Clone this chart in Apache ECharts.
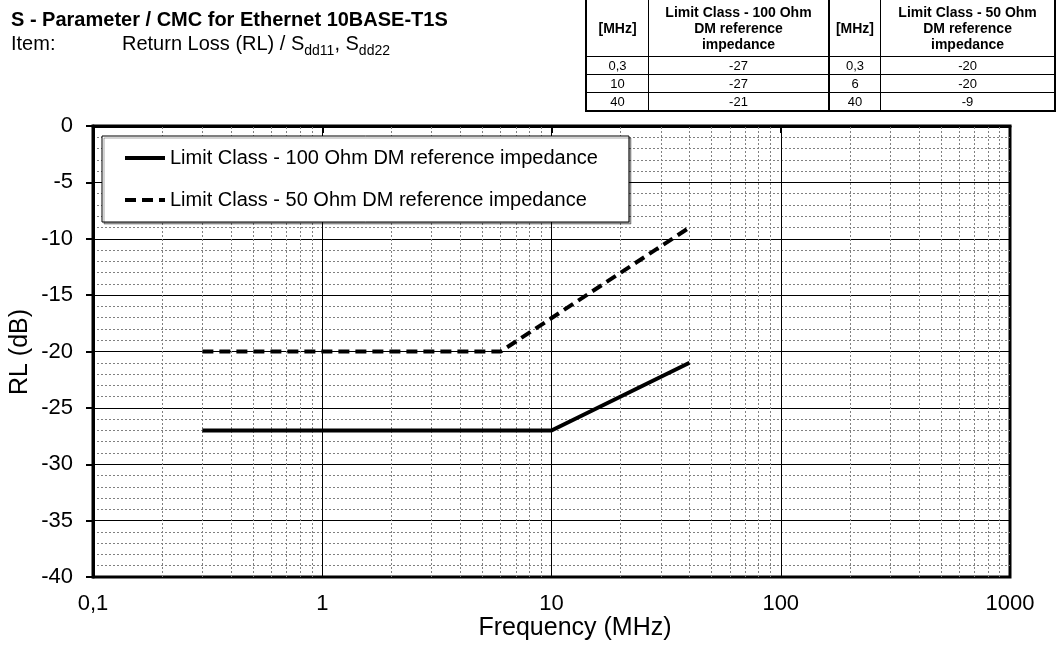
<!DOCTYPE html>
<html>
<head>
<meta charset="utf-8">
<script src="https://cdn.jsdelivr.net/npm/echarts@6/dist/echarts.min.js"></script>
<style>
  html, body { margin: 0; padding: 0; background: #fff; }
  #chart { position: absolute; left: 0; top: 0; width: 1056px; height: 645px; }
  .txt { position: absolute; font-family: 'Liberation Sans', Arial, sans-serif; color: #000; white-space: nowrap; }
  #title { left: 11px; top: 8px; font-size: 20px; font-weight: bold; }
  #item { left: 11px; top: 32px; font-size: 20px; }
  #item .lbl { display: inline-block; width: 111px; }
  #item sub { font-size: 14px; vertical-align: -5px; line-height: 0; }
  #limits { position: absolute; left: 585px; top: -3px; border-collapse: collapse; border: 2px solid #000;
            font-family: 'Liberation Sans', Arial, sans-serif; color: #000; table-layout: fixed; }
  #limits th, #limits td { border: 1px solid #000; text-align: center; padding: 0; }
  #limits th { font-size: 14px; font-weight: bold; line-height: 16px; height: 57px; }
  #limits td { font-size: 13px; height: 17px; line-height: 17px; }
  #limits .sep { border-right: 2px solid #000; }
</style>
</head>
<body>
<div id="chart"></div>
<div id="title" class="txt">S - Parameter / CMC for Ethernet 10BASE-T1S</div>
<div id="item" class="txt"><span class="lbl">Item:</span>Return Loss (RL) / S<sub>dd11</sub>, S<sub>dd22</sub></div>
<table id="limits">
  <colgroup><col style="width:63px"><col style="width:182px"><col style="width:52px"><col style="width:176px"></colgroup>
  <thead><tr id="limitsHead"></tr></thead>
  <tbody id="limitsBody"></tbody>
</table>
<script>
// Limit lines: frequency in MHz, return loss in dB
const seriesNames = [
  'Limit Class - 100 Ohm DM reference impedance',
  'Limit Class - 50 Ohm DM reference impedance'
];
const freq100 = [0.3, 10, 40];
const rl100 = [-27, -27, -21];
const freq50 = [0.3, 6, 40];
const rl50 = [-20, -20, -9];

// Table column headers
const tableHeaders = ['[MHz]', 'Limit Class - 100 Ohm<br>DM reference<br>impedance', '[MHz]', 'Limit Class - 50 Ohm<br>DM reference<br>impedance'];

// Axis ranges and log-grid helpers
const xMin = 0.1, xMax = 1000;
const yMin = -40, yMax = 0, yStep = 5;
const decades = [0.1, 1, 10, 100];
const minorFactors = [2, 3, 4, 5, 6, 7, 8, 9];

const fmt = v => String(v).replace('.', ',');

// Fill the limits table
(function () {
  const head = document.getElementById('limitsHead');
  head.innerHTML = tableHeaders.map((h, i) => '<th' + (i === 1 ? ' class="sep"' : '') + '>' + h + '</th>').join('');
  const body = document.getElementById('limitsBody');
  let rows = '';
  for (let i = 0; i < freq100.length; i++) {
    rows += '<tr><td>' + fmt(freq100[i]) + '</td><td class="sep">' + rl100[i] + '</td><td>' +
            fmt(freq50[i]) + '</td><td>' + rl50[i] + '</td></tr>';
  }
  body.innerHTML = rows;
})();

const minorX = [];
decades.forEach(d => minorFactors.forEach(f => minorX.push(+(d * f).toPrecision(6))));

const FONT = 'Liberation Sans';
const chart = echarts.init(document.getElementById('chart'), null, { renderer: 'canvas' });

chart.setOption({
  animation: false,
  backgroundColor: '#fff',
  textStyle: { fontFamily: FONT },
  grid: {
    left: 93, right: 46, top: 126, bottom: 68,
    show: true, borderColor: '#000', borderWidth: 3, backgroundColor: 'transparent'
  },
  legend: {
    data: seriesNames,
    orient: 'vertical',
    left: 102, top: 136, z: 50,
    itemWidth: 40, itemHeight: 14, itemGap: 22,
    padding: [12, 31, 12, 21],
    backgroundColor: '#fff',
    borderColor: '#000', borderWidth: 1,
    shadowColor: 'rgba(0,0,0,0.35)', shadowOffsetX: 2, shadowOffsetY: 2, shadowBlur: 0,
    itemStyle: { opacity: 0 },
    lineStyle: { width: 4 },
    textStyle: { fontSize: 20, color: '#000', fontFamily: FONT },
    selectedMode: false
  },
  xAxis: {
    type: 'log', logBase: 10, min: xMin, max: xMax,
    axisLine: { lineStyle: { color: '#000', width: 3 } },
    axisTick: { show: true, length: 7, lineStyle: { color: '#000', width: 2 } },
    axisLabel: { fontSize: 22, color: '#000', margin: 16, fontFamily: FONT, formatter: v => fmt(+v.toPrecision(6)) },
    splitLine: { show: true, lineStyle: { color: '#000', width: 1 } }
  },
  yAxis: {
    type: 'value', min: yMin, max: yMax, interval: yStep,
    axisLine: { show: true, lineStyle: { color: '#000', width: 3 } },
    axisTick: { show: true, length: 7, lineStyle: { color: '#000', width: 2 } },
    axisLabel: { fontSize: 22, color: '#000', margin: 20, fontFamily: FONT },
    splitLine: { show: true, lineStyle: { color: '#000', width: 1 } },
    minorTick: { show: false, splitNumber: 5 },
    minorSplitLine: { show: true, lineStyle: { color: '#808080', width: 1, type: [2, 2] } }
  },
  graphic: [
    {
      type: 'text', x: 575, y: 628, z: 10,
      style: { text: 'Frequency (MHz)', fontSize: 25, fill: '#000', fontFamily: FONT, align: 'center', verticalAlign: 'middle' }
    },
    {
      type: 'text', x: 20, y: 352, rotation: Math.PI / 2, z: 10,
      style: { text: 'RL (dB)', fontSize: 25, fill: '#000', fontFamily: FONT, align: 'center', verticalAlign: 'middle' }
    }
  ],
  series: [
    {
      name: seriesNames[0], type: 'line', symbol: 'none', z: 5,
      data: freq100.map((f, i) => [f, rl100[i]]),
      lineStyle: { color: '#000', width: 4, type: 'solid' },
      itemStyle: { color: '#000' }
    },
    {
      name: seriesNames[1], type: 'line', symbol: 'none', z: 5,
      data: freq50.map((f, i) => [f, rl50[i]]),
      lineStyle: { color: '#000', width: 4, type: [11, 6] },
      itemStyle: { color: '#000' }
    },
    {
      // minor vertical grid lines of the log axis
      name: 'minor-grid', type: 'line', data: [], z: 1, silent: true,
      markLine: {
        silent: true, symbol: 'none', animation: false,
        label: { show: false },
        lineStyle: { color: '#808080', width: 1, type: [2, 2] },
        data: minorX.map(v => ({ xAxis: v }))
      }
    }
  ]
});
</script>
</body>
</html>
